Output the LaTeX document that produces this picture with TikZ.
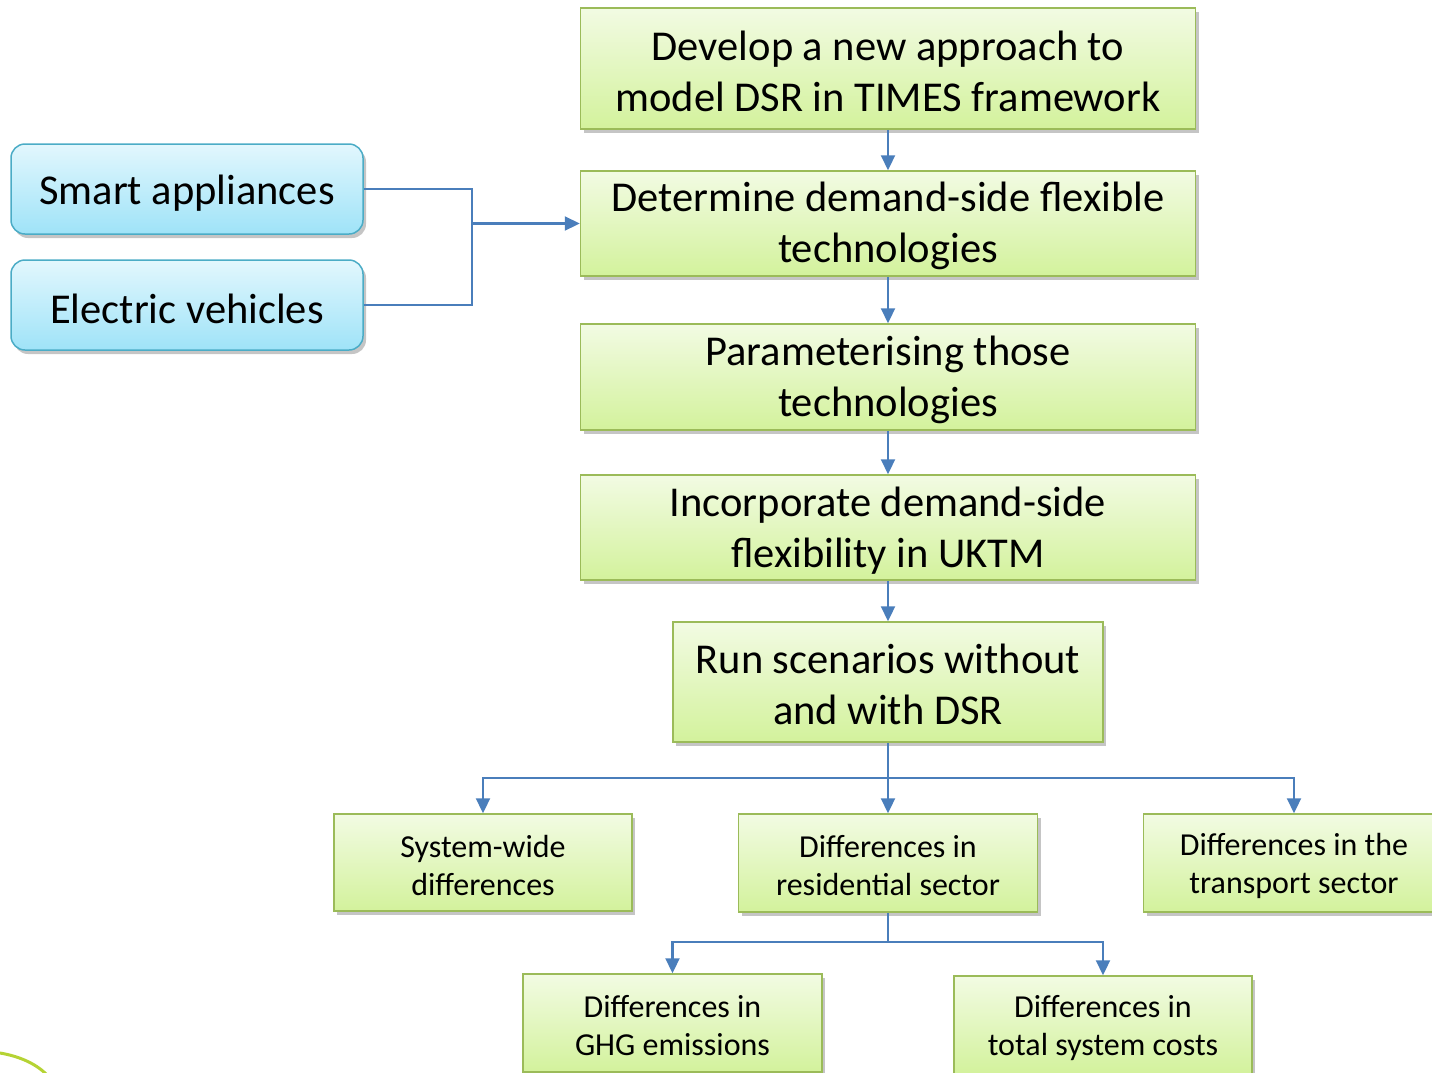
\documentclass[tikz,border=0pt]{standalone}
\usepackage{fontspec}
\setmainfont{Carlito}
\usetikzlibrary{arrows.meta,shadows}
\definecolor{gborder}{HTML}{9BBB59}
\definecolor{gtop}{HTML}{F2FBE3}
\definecolor{gbot}{HTML}{D3F29C}
\definecolor{bborder}{HTML}{4BACC6}
\definecolor{btop}{HTML}{E2F7FD}
\definecolor{bbot}{HTML}{9FE3F8}
\definecolor{conn}{HTML}{4A7EBB}
\definecolor{leaf}{HTML}{B5D334}
\tikzset{
  gbox/.style={draw=gborder, line width=1.5pt, top color=gtop, bottom color=gbot,
    drop shadow={shadow xshift=3pt, shadow yshift=-4pt, fill=black!45, opacity=.5},
    align=center, inner sep=0pt},
  bigone/.style={font=\fontsize{42.5}{51}\selectfont, text height=38pt},
  bigtext/.style={font=\fontsize{42.5}{51}\selectfont, text height=86pt},
  smalltext/.style={font=\fontsize{32}{38}\selectfont, text height=66pt},
  bbox/.style={draw=bborder, line width=1.5pt, rounded corners=14pt, top color=btop, bottom color=bbot,
    drop shadow={shadow xshift=3pt, shadow yshift=-4pt, fill=black!45, opacity=.5},
    align=center, inner sep=0pt},
  conn/.style={draw=conn, line width=2.2pt},
  arr/.style={conn, -{Triangle[length=15pt,width=14pt]}},
}
\begin{document}
\begin{tikzpicture}[x=1pt,y=-1pt]
\useasboundingbox (0,0) rectangle (1432,1072);
% decorative arc bottom-left
\draw[leaf, line width=3pt] (0,1053) .. controls (18,1056) and (35,1063) .. (46,1074);
% main column
\node[gbox,bigtext,minimum width=615pt,minimum height=121pt] (b1) at (888,68.5) {Develop a new approach to\\model DSR in TIMES framework};
\node[gbox,bigtext,minimum width=615pt,minimum height=105pt] (b2) at (888,223.5) {Determine demand-side flexible\\technologies};
\node[gbox,bigtext,minimum width=615pt,minimum height=106pt] (b3) at (888,377) {Parameterising those\\technologies};
\node[gbox,bigtext,minimum width=615pt,minimum height=105pt] (b4) at (888,527.5) {Incorporate demand-side\\flexibility in UKTM};
\node[gbox,bigtext,minimum width=430pt,minimum height=120pt] (b5) at (888,682) {Run scenarios without\\and with DSR};
% left inputs
\node[bbox,bigone,minimum width=352pt,minimum height=90pt] (sa) at (187,189) {Smart appliances};
\node[bbox,bigone,minimum width=352pt,minimum height=90pt] (ev) at (187,305) {Electric vehicles};
% second level
\node[gbox,smalltext,minimum width=298pt,minimum height=97pt] (s1) at (483,862.5) {System-wide\\differences};
\node[gbox,smalltext,minimum width=299pt,minimum height=98pt] (s2) at (888,863) {Differences in\\residential sector};
\node[gbox,smalltext,minimum width=301pt,minimum height=98pt] (s3) at (1294,863) {Differences in the\\transport sector};
% third level
\node[gbox,smalltext,minimum width=299pt,minimum height=98pt] (g1) at (672.5,1023) {Differences in\\GHG emissions};
\node[gbox,smalltext,minimum width=298pt,minimum height=98pt] (g2) at (1103,1025) {Differences in\\total system costs};
% connectors
\draw[arr] (b1.south) -- (b2.north);
\draw[arr] (b2.south) -- (b3.north);
\draw[arr] (b3.south) -- (b4.north);
\draw[arr] (b4.south) -- (b5.north);
\coordinate (jx) at (472,223.5);
\draw[conn] (sa.east) -| (jx);
\draw[conn] (ev.east) -| (jx);
\draw[arr] (jx) -- (b2.west);
\coordinate (h1) at (888,778);
\draw[conn] (b5.south) -- (h1);
\draw[arr] (h1) -| (s1.north);
\draw[arr] (h1) -- (s2.north);
\draw[arr] (h1) -| (s3.north);
\coordinate (h2) at (888,942);
\draw[conn] (s2.south) -- (h2);
\draw[arr] (h2) -| (g1.north);
\draw[arr] (h2) -| (g2.north);
\end{tikzpicture}
\end{document}
